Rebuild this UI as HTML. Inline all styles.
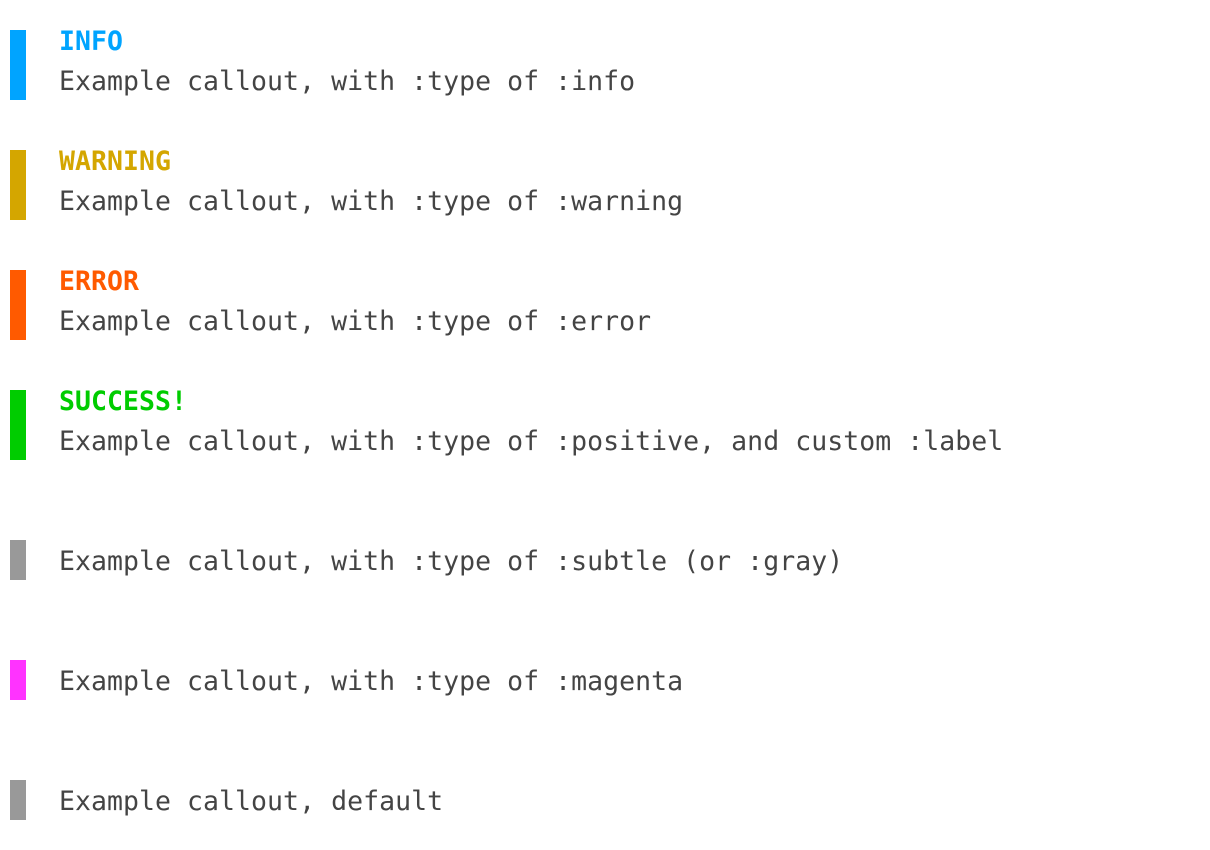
<!DOCTYPE html>
<html><head><meta charset="utf-8"><style>
html,body{margin:0;padding:0;background:#fff;width:1210px;height:850px;overflow:hidden}
body{position:relative;font-family:"DejaVu Sans Mono","Liberation Mono",monospace;}
.bar{position:absolute;left:10px;width:16px}
.t{position:absolute;left:59px;font-size:26.5px;line-height:40px;white-space:pre;color:#444;letter-spacing:0.05px;margin-top:2px}
.b{font-weight:bold}
</style></head><body>
<div class="bar" style="top:30px;height:70px;background:#00a4ff"></div>
<div class="t b" style="top:20px;color:#00a4ff">INFO</div>
<div class="t" style="top:60px">Example callout, with :type of :info</div>

<div class="bar" style="top:150px;height:70px;background:#d4a600"></div>
<div class="t b" style="top:140px;color:#d4a600">WARNING</div>
<div class="t" style="top:180px">Example callout, with :type of :warning</div>

<div class="bar" style="top:270px;height:70px;background:#ff5a00"></div>
<div class="t b" style="top:260px;color:#ff5a00">ERROR</div>
<div class="t" style="top:300px">Example callout, with :type of :error</div>

<div class="bar" style="top:390px;height:70px;background:#00cc00"></div>
<div class="t b" style="top:380px;color:#00cc00">SUCCESS!</div>
<div class="t" style="top:420px">Example callout, with :type of :positive, and custom :label</div>

<div class="bar" style="top:540px;height:40px;background:#999"></div>
<div class="t" style="top:540px">Example callout, with :type of :subtle (or :gray)</div>

<div class="bar" style="top:660px;height:40px;background:#ff33ff"></div>
<div class="t" style="top:660px">Example callout, with :type of :magenta</div>

<div class="bar" style="top:780px;height:40px;background:#999"></div>
<div class="t" style="top:780px">Example callout, default</div>
</body></html>
